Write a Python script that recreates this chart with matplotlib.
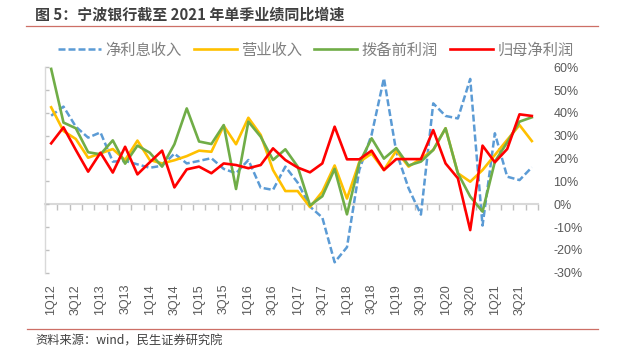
import matplotlib
matplotlib.use("Agg")
import matplotlib.pyplot as plt
import numpy as np

plt.rcParams['font.family'] = ['Noto Sans CJK SC', 'DejaVu Sans']

quarters = [f"{q}Q{y:02d}" for y in range(12, 22) for q in range(1, 5)]

nii = [38.8, 42.8, 34.0, 29.2, 31.5, 18.7, 19.0, 17.5, 16.0, 16.9,
       22.2, 17.9, 19.0, 20.2, 15.5, 13.6, 19.4, 7.3, 6.3, 16.5,
       9.5, -1.0, -5.8, -25.4, -18.8, 15.0, 30.5, 55.2, 23.0, 7.0,
       -4.5, 44.2, 38.7, 37.6, 54.9, -9.3, 31.1, 12.1, 10.6, 16.2]
revenue = [42.5, 32.1, 28.6, 20.4, 22.3, 24.2, 19.4, 27.9, 19.4, 17.9,
           19.3, 21.1, 23.5, 23.0, 34.4, 26.3, 37.9, 30.4, 15.0, 5.8,
           5.8, -1.2, 5.5, 17.0, 2.5, 18.5, 22.2, 15.0, 23.5, 16.5,
           20.0, 23.8, 33.3, 13.6, 9.9, 15.0, 21.6, 28.2, 34.7, 27.7]
ppop = [59.3, 35.8, 33.3, 22.8, 21.9, 28.0, 17.8, 25.7, 22.6, 16.5,
        26.3, 42.0, 27.5, 26.4, 34.7, 6.7, 36.2, 29.6, 19.4, 24.1,
        16.5, -0.5, 3.5, 15.5, -4.4, 18.0, 28.9, 20.0, 24.6, 17.0,
        18.7, 23.8, 33.3, 13.6, 3.4, -3.2, 18.7, 27.1, 36.2, 38.1]
net_profit = [26.7, 33.7, 23.8, 14.3, 22.6, 13.9, 25.2, 13.1, 18.4, 23.5,
              7.4, 15.3, 16.5, 13.6, 17.9, 17.2, 15.8, 17.2, 24.5, 19.4,
              16.1, 14.0, 17.9, 34.0, 19.7, 19.7, 23.5, 15.0, 19.8, 19.8,
              19.8, 32.5, 17.9, 11.4, -11.3, 25.7, 18.4, 24.2, 39.4, 38.7]
series_names = ["净利息收入", "营业收入", "拨备前利润", "归母净利润"]
y_ticks = [-30, -20, -10, 0, 10, 20, 30, 40, 50, 60]

fig = plt.figure(figsize=(6.18, 3.56), dpi=100)
ax = fig.add_axes([45/618, 1-272.8/356, (538-45)/618, (272.8-67.3)/356])

x = np.arange(len(quarters))
ax.plot(x, nii, color='#5B9BD5', lw=1.8, dashes=(2.8, 1.2), label=series_names[0])
ax.plot(x, revenue, color='#FFC000', lw=1.9, label=series_names[1])
ax.plot(x, ppop, color='#70AD47', lw=1.9, label=series_names[2])
ax.plot(x, net_profit, color='#FF0000', lw=1.9, label=series_names[3])

ax.set_xlim(-0.5, len(quarters) - 0.5)
ax.set_ylim(-30, 60)

# y axis: spine and ticks on the left, labels on the right
ax.set_yticks(y_ticks)
ax.set_yticklabels([f"{v}%" for v in y_ticks], fontfamily='Liberation Sans')
ax.tick_params(axis='y', left=True, right=False, labelleft=False, labelright=True,
               direction='in', length=3, color='#BFBFBF', width=1,
               labelsize=9, labelcolor='#595959', pad=11)
for lab in ax.get_yticklabels():
    lab.set_horizontalalignment('left')

# x labels at the bottom
ax.set_xticks(x[::2])
ax.set_xticklabels(quarters[::2], rotation=90, fontfamily='Liberation Sans')
ax.tick_params(axis='x', bottom=True, length=0, labelsize=9, labelcolor='#595959', pad=8)
for lab in ax.get_xticklabels():
    lab.set_verticalalignment('top')

for s in ['top', 'right', 'bottom']:
    ax.spines[s].set_visible(False)
ax.spines['left'].set_color('#D9D9D9')
ax.spines['left'].set_linewidth(1.0)

# zero axis with category boundary ticks
sec = ax.secondary_xaxis(30/90)
sec.set_xticks(np.arange(-0.5, len(quarters), 1.0))
sec.tick_params(axis='x', direction='out', length=4, color='#BFBFBF', width=1,
                labelbottom=False, labeltop=False)
sec.spines['bottom'].set_color('#D9D9D9')
sec.spines['bottom'].set_linewidth(1.5)

# legend
fig.legend(loc='center', bbox_to_anchor=(316/618, 1-50/356), ncol=4, frameon=False,
           handlelength=2.8, handletextpad=0.3, columnspacing=0.8,
           prop={'size': 11}, labelcolor='#808080', borderaxespad=0)

# title and rules
fig.text(35/618, 1-15/356, "图 5：宁波银行截至 2021 年单季业绩同比增速", fontsize=10.8,
         fontweight='bold', color='#404040', ha='left', va='center')
fig.add_artist(plt.Line2D([26/618, 598/618], [1-26/356, 1-26/356], color='#CD6F66', lw=0.9))
fig.add_artist(plt.Line2D([27/618, 598/618], [1-329.3/356, 1-329.3/356], color='#CD6F66', lw=0.9))
fig.text(35/618, 1-341.5/356, "资料来源：wind，民生证券研究院", fontsize=8.8,
         color='#404040', ha='left', va='center')

fig.savefig("out.png", dpi=100)
